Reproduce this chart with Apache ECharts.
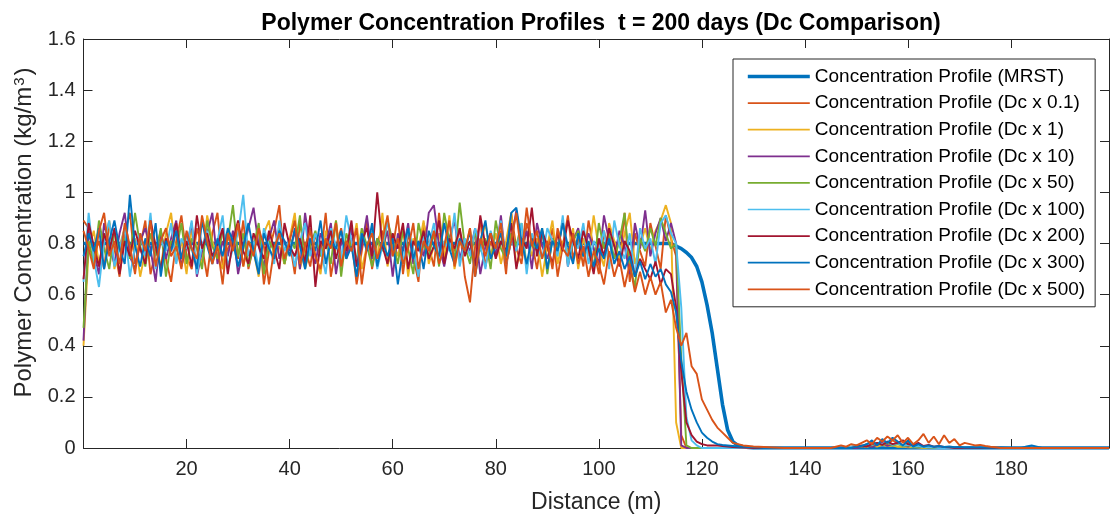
<!DOCTYPE html>
<html>
<head>
<meta charset="utf-8">
<script src="https://cdn.jsdelivr.net/npm/echarts@6/dist/echarts.min.js"></script>
<style>
html,body{margin:0;padding:0;background:#fff;}
#chart{width:1110px;height:516px;}
</style>
</head>
<body>
<div id="chart"></div>
<script>
// ---------- DATA ----------
const legendNames = [
  'Concentration Profile (MRST)',
  'Concentration Profile (Dc x 0.1)',
  'Concentration Profile (Dc x 1)',
  'Concentration Profile (Dc x 10)',
  'Concentration Profile (Dc x 50)',
  'Concentration Profile (Dc x 100)',
  'Concentration Profile (Dc x 200)',
  'Concentration Profile (Dc x 300)',
  'Concentration Profile (Dc x 500)'
];
const yTicks = [0, 0.2, 0.4, 0.6, 0.8, 1, 1.2, 1.4, 1.6];
const xTickLabels = [20, 40, 60, 80, 100, 120, 140, 160, 180];

// MRST profile (smooth)
const mrstX = [0,112,113,114,115,116,117,118,119,120,121,122,123,124,125,126,127,128,129,130,199];
const mrstY = [0.80,0.80,0.80,0.80,0.79,0.78,0.765,0.745,0.71,0.65,0.56,0.45,0.31,0.17,0.07,0.025,0.01,0.005,0.002,0,0];

// Noisy profiles: "near" values at distance 0,1,2,... ; "far" values at distance FAR_START, FAR_START+1, ...
const FAR_START = 145;

const dc01Near = [0.89,0.86,0.75,0.81,0.70,0.88,0.78,0.67,0.84,0.92,
0.72,0.79,0.89,0.68,0.77,0.85,0.74,0.65,0.81,0.91,
0.75,0.70,0.86,0.79,0.67,0.84,0.92,0.71,0.78,0.82,
0.74,0.89,0.70,0.79,0.86,0.64,0.77,0.85,0.95,0.72,
0.81,0.68,0.88,0.78,0.71,0.84,0.75,0.92,0.67,0.79,
0.86,0.74,0.82,0.64,0.77,0.89,0.70,0.81,0.85,0.72,
0.78,0.91,0.68,0.84,0.75,0.65,0.88,0.79,0.71,0.92,
0.74,0.82,0.77,0.86,0.67,0.57,0.79,0.89,0.71,0.81,
0.75,0.85,0.68,0.92,0.78,0.72,0.88,0.81,0.70,0.84,
0.77,0.86,0.67,0.79,0.91,0.74,0.82,0.71,0.89,0.78,
0.68,0.85,0.75,0.81,0.72,0.92,0.65,0.84,0.77,0.71,
0.88,0.79,0.70,0.91,0.82,0.75,0.05,0];
const dc01Far = [0,0,0,0,0.005,0.01,0.005,0.015,0.02,0.01,
0.025,0.015,0.03,0.02,0.01,0.02,0.008,0.012,0.005,0.004,
0.003,0.002,0,0,0,0,0,0,0,0,
0,0,0,0,0,0,0,0,0,0,
0,0,0,0,0,0,0,0,0,0,
0,0,0,0,0];

const dc1Near = [0.40,0.78,0.85,0.72,0.81,0.89,0.70,0.79,0.86,0.75,
0.82,0.67,0.77,0.88,0.79,0.71,0.84,0.92,0.74,0.81,
0.68,0.86,0.78,0.72,0.91,0.81,0.75,0.70,0.85,0.79,
0.88,0.71,0.81,0.77,0.67,0.84,0.89,0.74,0.79,0.72,
0.82,0.92,0.70,0.78,0.86,0.75,0.68,0.85,0.79,0.89,
0.72,0.81,0.77,0.88,0.70,0.79,0.85,0.74,0.92,0.71,
0.81,0.75,0.86,0.67,0.82,0.78,0.89,0.72,0.79,0.84,
0.74,0.91,0.70,0.81,0.77,0.86,0.68,0.79,0.88,0.75,
0.84,0.72,0.81,0.92,0.71,0.78,0.85,0.75,0.82,0.67,
0.79,0.89,0.72,0.81,0.77,0.86,0.70,0.82,0.75,0.91,
0.78,0.71,0.88,0.81,0.74,0.84,0.92,0.72,0.79,0.86,
0.77,0.85,0.89,0.95,0.88,0.10,0,0];
const dc1Far = [0,0,0,0,0,0.004,0.008,0.005,0.01,0.006,
0.012,0.008,0.01,0.005,0.006,0.003,0.004,0.002,0,0,
0,0,0,0,0,0,0,0,0,0,
0,0,0,0,0,0,0,0,0,0,
0,0,0,0,0,0,0,0,0,0,
0,0,0,0,0];

const dc10Near = [0.42,0.85,0.77,0.68,0.88,0.79,0.72,0.84,0.92,0.75,
0.70,0.81,0.86,0.78,0.65,0.85,0.74,0.82,0.89,0.71,
0.79,0.88,0.67,0.77,0.84,0.92,0.72,0.81,0.75,0.85,
0.68,0.78,0.86,0.94,0.79,0.71,0.82,0.89,0.74,0.81,
0.77,0.85,0.70,0.92,0.78,0.72,0.84,0.79,0.88,0.68,
0.81,0.75,0.86,0.71,0.79,0.91,0.74,0.82,0.78,0.85,
0.67,0.84,0.77,0.88,0.72,0.81,0.75,0.92,0.95,0.79,
0.71,0.82,0.89,0.74,0.81,0.77,0.86,0.68,0.79,0.84,
0.75,0.91,0.72,0.81,0.93,0.78,0.85,0.70,0.88,0.79,
0.74,0.82,0.77,0.89,0.71,0.81,0.86,0.75,0.84,0.78,
0.72,0.91,0.81,0.74,0.85,0.79,0.68,0.88,0.78,0.93,
0.75,0.84,0.90,0.81,0.88,0.80,0.01,0];
const dc10Far = [0,0,0,0,0,0,0.005,0.01,0.004,0.012,
0.02,0.008,0.015,0.02,0.01,0.006,0.012,0.004,0.006,0.002,
0.003,0,0,0,0,0,0,0,0,0,
0,0,0,0,0,0,0,0,0,0,
0,0,0,0,0,0,0,0,0,0,
0,0,0,0,0];

const dc50Near = [0.47,0.81,0.72,0.89,0.78,0.70,0.85,0.77,0.82,0.74,
0.92,0.79,0.71,0.84,0.75,0.86,0.67,0.81,0.77,0.88,
0.72,0.82,0.78,0.70,0.89,0.79,0.74,0.85,0.81,0.95,
0.75,0.84,0.71,0.79,0.88,0.68,0.81,0.77,0.86,0.72,
0.82,0.78,0.91,0.70,0.79,0.85,0.75,0.81,0.72,0.89,
0.67,0.84,0.78,0.74,0.86,0.79,0.71,0.82,0.77,0.89,
0.81,0.72,0.85,0.78,0.68,0.88,0.79,0.75,0.84,0.71,
0.92,0.81,0.74,0.96,0.79,0.72,0.85,0.77,0.82,0.70,
0.89,0.78,0.74,0.84,0.79,0.88,0.71,0.81,0.77,0.86,
0.68,0.82,0.78,0.89,0.72,0.81,0.85,0.75,0.79,0.70,
0.88,0.78,0.84,0.74,0.81,0.92,0.72,0.63,0.82,0.77,
0.86,0.79,0.90,0.84,0.78,0.80,0.35,0.01,0];
const dc50Far = [0,0,0,0,0.004,0.008,0.006,0.012,0.01,0.018,
0.012,0.02,0.01,0.015,0.008,0.01,0.005,0.006,0.003,0.002,
0,0,0,0,0,0,0,0,0,0,
0,0,0,0,0,0,0,0,0,0,
0,0,0,0,0,0,0,0,0,0,
0,0,0,0,0];

const dc100Near = [0.65,0.92,0.74,0.63,0.81,0.89,0.71,0.78,0.86,0.67,
0.79,0.84,0.75,0.92,0.70,0.81,0.77,0.88,0.72,0.82,
0.78,0.89,0.68,0.79,0.85,0.74,0.81,0.91,0.71,0.78,
0.84,0.99,0.75,0.81,0.70,0.86,0.79,0.72,0.89,0.77,
0.82,0.71,0.81,0.88,0.75,0.84,0.78,0.68,0.86,0.79,
0.74,0.91,0.81,0.72,0.84,0.77,0.85,0.70,0.79,0.89,
0.75,0.82,0.72,0.86,0.78,0.67,0.84,0.79,0.88,0.74,
0.81,0.77,0.92,0.71,0.82,0.75,0.86,0.79,0.70,0.85,
0.78,0.89,0.72,0.81,0.77,0.88,0.68,0.84,0.79,0.74,
0.86,0.81,0.75,0.91,0.71,0.82,0.78,0.88,0.72,0.81,
0.77,0.85,0.70,0.89,0.79,0.74,0.84,0.67,0.86,0.78,
0.82,0.72,0.88,0.91,0.84,0.80,0.55,0.12,0.03,0.01,0];
const dc100Far = [0,0,0,0,0.005,0.01,0.008,0.015,0.012,0.02,
0.015,0.025,0.012,0.018,0.01,0.012,0.006,0.008,0.004,0.003,
0.002,0,0,0,0,0,0,0,0,0,
0,0,0,0,0,0,0,0,0,0,
0,0,0,0,0,0,0,0,0,0,
0,0,0,0,0];

const dc200Near = [0.66,0.88,0.79,0.71,0.84,0.77,0.86,0.68,0.81,0.75,
0.85,0.78,0.72,0.89,0.79,0.70,0.82,0.77,0.88,0.74,
0.81,0.71,0.91,0.78,0.84,0.75,0.79,0.86,0.68,0.81,
0.89,0.77,0.72,0.84,0.79,0.74,0.85,0.78,0.70,0.88,
0.79,0.75,0.82,0.72,0.91,0.63,0.81,0.78,0.85,0.74,
0.82,0.77,0.89,0.71,0.81,0.86,0.75,1.00,0.79,0.72,
0.84,0.78,0.88,0.70,0.81,0.77,0.85,0.74,0.79,0.89,
0.72,0.82,0.78,0.86,0.75,0.81,0.71,0.91,0.79,0.84,
0.74,0.81,0.77,0.88,0.70,0.82,0.78,0.94,0.75,0.85,
0.79,0.72,0.84,0.77,0.89,0.81,0.74,0.85,0.78,0.68,
0.82,0.75,0.86,0.79,0.71,0.81,0.77,0.67,0.74,0.70,
0.66,0.73,0.64,0.70,0.68,0.55,0.30,0.10,0.05,0.025,
0.015,0.01,0.01,0.01,0.008,0.006,0.004,0.003,0.002,0.001,0];
const dc200Far = [0,0,0,0,0,0.005,0.01,0.006,0.015,0.02,
0.012,0.025,0.015,0.02,0.03,0.015,0.01,0.02,0.008,0.012,
0.005,0.008,0.004,0.003,0,0,0,0,0,0,
0,0,0,0,0,0,0,0,0,0,
0,0,0,0,0,0,0,0,0,0,
0,0,0,0,0];

const dc300Near = [0.75,0.84,0.77,0.86,0.70,0.81,0.89,0.78,0.72,0.99,
0.79,0.71,0.82,0.75,0.88,0.67,0.81,0.77,0.85,0.74,
0.84,0.78,0.70,0.89,0.79,0.72,0.82,0.75,0.86,0.81,
0.71,0.79,0.88,0.77,0.68,0.84,0.78,0.74,0.85,0.81,
0.75,0.86,0.79,0.70,0.82,0.77,0.89,0.72,0.81,0.78,
0.85,0.74,0.79,0.67,0.84,0.77,0.88,0.71,0.81,0.75,
0.82,0.64,0.78,0.86,0.74,0.81,0.70,0.85,0.79,0.75,
0.88,0.78,0.72,0.82,0.77,0.85,0.67,0.81,0.89,0.74,
0.79,0.84,0.75,0.92,0.94,0.81,0.72,0.82,0.78,0.86,
0.70,0.81,0.77,0.88,0.79,0.72,0.84,0.75,0.81,0.71,
0.78,0.74,0.82,0.72,0.77,0.70,0.75,0.67,0.73,0.66,
0.72,0.67,0.70,0.64,0.61,0.53,0.34,0.22,0.15,0.10,
0.06,0.04,0.025,0.015,0.012,0.01,0.008,0.006,0.005,0.004,
0.003,0.002,0];
const dc300Far = [0,0,0,0,0,0.005,0.008,0.015,0.03,0.01,
0.035,0.02,0.04,0.025,0.01,0.03,0.005,0.015,0.005,0.01,
0.005,0.008,0.004,0.006,0.003,0.004,0.002,0.003,0.002,0.002,
0.001,0.002,0.001,0.002,0.001,0,0,0,0.006,0.01,
0.005,0,0,0,0,0,0,0,0,0,
0,0,0,0,0];

const dc500Near = [0.85,0.78,0.70,0.85,0.92,0.75,0.81,0.72,0.88,0.79,
0.68,0.84,0.77,0.89,0.71,0.81,0.86,0.75,0.79,0.70,
0.85,0.78,0.74,0.91,0.81,0.72,0.79,0.64,0.84,0.77,
0.88,0.71,0.81,0.75,0.86,0.79,0.64,0.78,0.84,0.74,
0.81,0.89,0.72,0.79,0.85,0.75,0.70,0.82,0.78,0.88,
0.71,0.81,0.77,0.86,0.64,0.79,0.84,0.74,0.81,0.91,
0.75,0.82,0.72,0.78,0.88,0.70,0.81,0.77,0.85,0.72,
0.79,0.89,0.71,0.81,0.77,0.86,0.67,0.82,0.75,0.84,
0.78,0.88,0.72,0.81,0.92,0.75,0.94,0.79,0.85,0.74,
0.81,0.70,0.86,0.78,0.75,0.84,0.72,0.79,0.67,0.77,
0.72,0.64,0.77,0.67,0.74,0.63,0.72,0.61,0.69,0.60,
0.67,0.60,0.65,0.53,0.58,0.47,0.40,0.45,0.32,0.29,
0.19,0.15,0.11,0.08,0.06,0.04,0.02,0.015,0.01,0.008,
0.006,0.005,0.004,0.003,0.002,0.001,0];
const dc500Far = [0,0.005,0.01,0.005,0.015,0.01,0.02,0.03,0.015,0.04,
0.025,0.045,0.03,0.05,0.02,0.04,0.015,0.03,0.055,0.02,
0.045,0.015,0.05,0.02,0.035,0.01,0.02,0.015,0.01,0.012,
0.008,0.005,0.003,0,0,0,0,0,0,0,
0,0,0,0,0,0,0,0,0,0,
0,0,0,0,0];

const colors = ['#0072BD','#D95319','#EDB120','#7E2F8E','#77AC30','#4DBEEE','#A2142F','#0072BD','#D95319'];

// ---------- BUILD ----------
function profile(near, far) {
  const pts = near.map((v, i) => [i, v]);
  return pts.concat(far.map((v, i) => [FAR_START + i, v]));
}
const seriesData = [
  mrstX.map((x, i) => [x, mrstY[i]]),
  profile(dc01Near, dc01Far),
  profile(dc1Near, dc1Far),
  profile(dc10Near, dc10Far),
  profile(dc50Near, dc50Far),
  profile(dc100Near, dc100Far),
  profile(dc200Near, dc200Far),
  profile(dc300Near, dc300Far),
  profile(dc500Near, dc500Far)
];

const FONT = '"Liberation Sans", Arial, Helvetica, sans-serif';
const AX = '#262626';
const THIN = 1.9, THICK = 3.6;

const chart = echarts.init(document.getElementById('chart'), null, {renderer: 'canvas'});

const xCommon = {
  type: 'value', min: 0, max: 199, interval: 20,
  splitLine: {show: false},
  axisLine: {show: true, onZero: false, lineStyle: {color: AX, width: 1}},
  axisTick: {show: true, inside: true, length: 9, lineStyle: {color: AX}}
};
const yCommon = {
  type: 'value', min: yTicks[0], max: yTicks[yTicks.length - 1], interval: 0.2,
  splitLine: {show: false},
  axisLine: {show: true, onZero: false, lineStyle: {color: AX, width: 1}},
  axisTick: {show: true, inside: true, length: 9, lineStyle: {color: AX}}
};

chart.setOption({
  animation: false,
  backgroundColor: '#ffffff',
  title: {
    text: 'Polymer Concentration Profiles  t = 200 days (Dc Comparison)',
    left: 596, top: 7, textAlign: 'center',
    textStyle: {fontFamily: FONT, fontSize: 23, fontWeight: 'bold', color: '#000'}
  },
  grid: {left: 83.5, top: 39, right: 1, bottom: 68, containLabel: false, outerBoundsMode: 'none'},
  legend: {
    orient: 'vertical', left: 733, top: 59,
    padding: [8, 10, 8, 13],
    itemGap: 7.6, itemWidth: 62, itemHeight: 19,
    borderColor: AX, borderWidth: 1, backgroundColor: '#fff',
    itemStyle: {opacity: 0, borderWidth: 0},
    textStyle: {fontFamily: FONT, fontSize: 19, color: '#000', lineHeight: 19},
    data: legendNames.map((n, i) => ({name: n, lineStyle: {width: i === 0 ? THICK : 1.7}}))
  },
  xAxis: [
    Object.assign({}, xCommon, {
      position: 'bottom',
      name: 'Distance (m)', nameLocation: 'middle', nameGap: 43,
      nameTextStyle: {fontFamily: FONT, fontSize: 23, color: AX},
      axisLabel: {
        fontFamily: FONT, fontSize: 20, color: AX, margin: 11,
        formatter: v => (xTickLabels.indexOf(v) >= 0 ? String(v) : '')
      }
    }),
    Object.assign({}, xCommon, {position: 'top', axisLabel: {show: false}})
  ],
  yAxis: [
    Object.assign({}, yCommon, {
      position: 'left',
      name: 'Polymer Concentration (kg/m{sup|3})', nameLocation: 'middle', nameGap: 45,
      nameTextStyle: {fontFamily: FONT, fontSize: 24, color: AX, padding: [0, 0, 0, 22],
        rich: {sup: {fontFamily: FONT, fontSize: 15, color: AX, verticalAlign: 'top', padding: [0, 2, 10, 1]}}},
      axisLabel: {fontFamily: FONT, fontSize: 20, color: AX, margin: 8,
        formatter: v => (yTicks.some(t => Math.abs(t - v) < 1e-9) ? String(Math.round(v * 10) / 10) : '')}
    }),
    Object.assign({}, yCommon, {position: 'right', axisLabel: {show: false}})
  ],
  series: seriesData.map((d, i) => ({
    name: legendNames[i],
    type: 'line',
    data: d,
    xAxisIndex: 0, yAxisIndex: 0,
    showSymbol: false, symbol: 'none',
    clip: true,
    color: colors[i],
    lineStyle: {color: colors[i], width: i === 0 ? THICK : THIN},
    emphasis: {disabled: true}
  }))
});
</script>
</body>
</html>
